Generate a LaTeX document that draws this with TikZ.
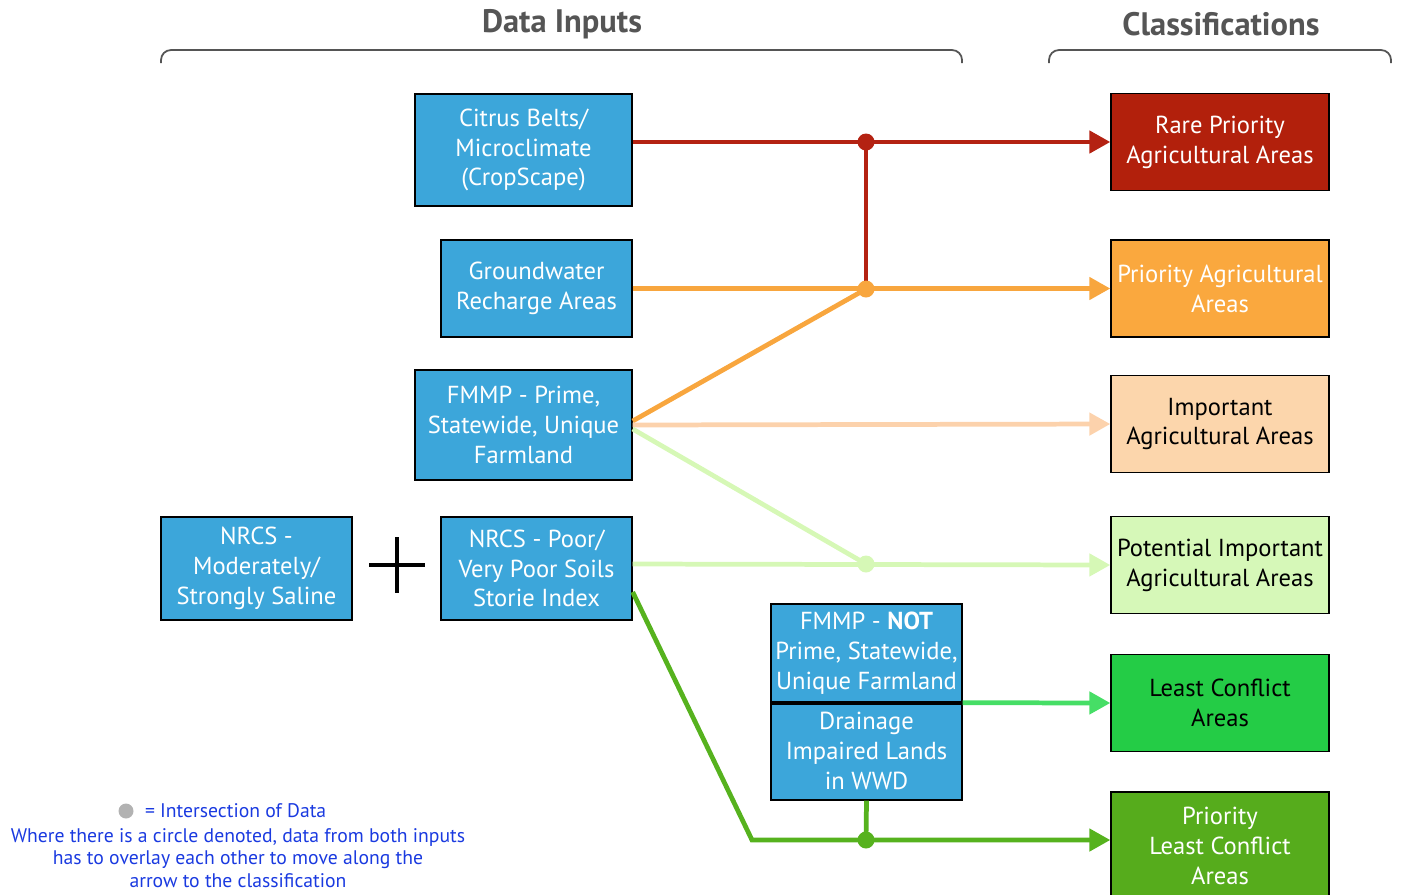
\documentclass[tikz,border=0pt]{standalone}
\usepackage{fontspec}
\setmainfont{PT Sans}
\usetikzlibrary{arrows.meta}
\usetikzlibrary{positioning}
\definecolor{boxblue}{RGB}{60,166,218}
\definecolor{rarered}{RGB}{178,32,12}
\definecolor{prioorange}{RGB}{250,168,62}
\definecolor{imppeach}{RGB}{252,214,172}
\definecolor{potgreen}{RGB}{214,248,184}
\definecolor{leastgreen}{RGB}{36,204,70}
\definecolor{plgreen}{RGB}{86,172,28}
\definecolor{redline}{RGB}{180,34,18}
\definecolor{orangeline}{RGB}{248,166,62}
\definecolor{peachline}{RGB}{252,210,172}
\definecolor{lgline}{RGB}{214,248,182}
\definecolor{greenline}{RGB}{86,178,30}
\definecolor{midgreen}{RGB}{70,222,102}
\definecolor{legendblue}{RGB}{26,58,224}
\definecolor{titlegray}{RGB}{85,85,85}

\begin{document}
\begin{tikzpicture}
  [x=0.02cm,y=-0.02cm,
  inbox/.style={rectangle,draw=black,thick,fill=boxblue,text=white,align=center,inner sep=0pt,font=\fontsize{14}{17}\selectfont},
  outbox/.style={rectangle,draw=black,thick,align=center,inner sep=0pt,minimum width=4.36cm,minimum height=1.94cm,font=\fontsize{14}{17}\selectfont},
  dot/.style={circle,inner sep=0pt,minimum size=0.34cm},
  link/.style={line width=2.7pt,-{Triangle[length=0.42cm,width=0.44cm]}},
  wire/.style={line width=2.7pt},
  brace/.style={titlegray,line width=1pt,rounded corners=0.2cm},
  title/.style={text=titlegray,font=\bfseries\fontsize{18.5}{22}\selectfont}]
  \useasboundingbox (0,0) rectangle (1402,894);

  % headings
  \node[title] (t1) at (562,24) {Data Inputs};
  \node[title] (t2) at (1221,24) {Classifications};
  \draw[brace] (161,63) -- (161,50) -- (962,50) -- (962,63);
  \draw[brace] (1049,63) -- (1049,50) -- (1391,50) -- (1391,63);

  % data inputs
  \node[inbox,minimum width=4.34cm,minimum height=2.24cm] (i1) at (523.5,150) {Citrus Belts/\\Microclimate\\(CropScape)};
  \node[inbox,minimum width=3.82cm,minimum height=1.94cm] (i2) at (536.5,288.5) {Groundwater\\Recharge Areas};
  \node[inbox,minimum width=4.34cm,minimum height=2.2cm] (i3) at (523.5,425) {FMMP - Prime,\\Statewide, Unique\\Farmland};
  \node[inbox,minimum width=3.82cm,minimum height=2.06cm] (i4) at (536.5,568.5) {NRCS - Poor/\\Very Poor Soils\\Storie Index};
  \node[inbox,minimum width=3.82cm,minimum height=2.06cm] (i5) at (256.5,568.5) {NRCS -\\Moderately/\\Strongly Saline};
  \node[inbox,minimum width=3.82cm,minimum height=1.96cm] (i6) at (866.5,653) {FMMP - \textbf{NOT}\\Prime, Statewide,\\Unique Farmland};
  \node[inbox,minimum width=3.82cm,minimum height=1.96cm] (i7) at (866.5,751) {Drainage\\Impaired Lands\\in WWD};
  \draw[line width=2.4pt] (i6.south west) -- (i6.south east);

  % plus sign
  \draw[line width=2pt] (369,565) -- (425,565);
  \draw[line width=2pt] (397,537) -- (397,593);

  % classifications
  \node[outbox,fill=rarered,text=white] (c1) at (1220,142) {Rare Priority\\Agricultural Areas};
  \node[outbox,fill=prioorange,text=white] (c2) at (1220,288.5) {Priority Agricultural\\Areas};
  \node[outbox,fill=imppeach] (c3) at (1220,424) {Important\\Agricultural Areas};
  \node[outbox,fill=potgreen] (c4) at (1220,565) {Potential Important\\Agricultural Areas};
  \node[outbox,fill=leastgreen] (c5) at (1220,703) {Least Conflict\\Areas};
  \node[outbox,fill=plgreen,text=white,minimum height=2.16cm] (c6) at (1220,846) {Priority\\Least Conflict\\Areas};

  % junctions
  \coordinate (j1) at (866,142);
  \coordinate (j2) at (866,289);
  \coordinate (j3) at (866,564);
  \coordinate (j4) at (866,840);
  \coordinate (bend) at (752,840);

  % connectors
  \draw[link,redline] (i1.east |- j1) -- (c1.west);
  \draw[wire,redline] (j1) -- (j2);
  \draw[link,orangeline] (i2.east) -- (c2.west);
  \draw[wire,orangeline] ([yshift=0.08cm]i3.east) -- (j2);
  \draw[link,peachline] (i3.east) -- (c3.west);
  \draw[wire,lgline] ([yshift=-0.08cm]i3.east) -- (j3);
  \draw[link,lgline] (i4.east |- j3) -- (c4.west);
  \draw[link,greenline] ([yshift=-0.47cm]i4.east) -- (bend) -- (c6.west |- j4);
  \draw[wire,greenline] (i7.south) -- (j4);
  \draw[link,midgreen] (i6.south east) -- (c5.west);

  \node[dot,fill=redline] (d1) at (j1) {};
  \node[dot,fill=orangeline] (d2) at (j2) {};
  \node[dot,fill=lgline] (d3) at (j3) {};
  \node[dot,fill=greenline] (d4) at (j4) {};

  % legend
  \node[circle,fill=black!30,inner sep=0pt,minimum size=0.3cm] (key) at (126,811) {};
  \node[right=0.1cm of key,text=legendblue,font=\fontsize{11.2}{13}\selectfont] (keytext) {= Intersection of Data};
  \node[text=legendblue,align=center,font=\fontsize{11.2}{13}\selectfont] (note) at (238,858) {Where there is a circle denoted, data from both inputs\\has to overlay each other to move along the\\arrow to the classification};
\end{tikzpicture}
\end{document}
